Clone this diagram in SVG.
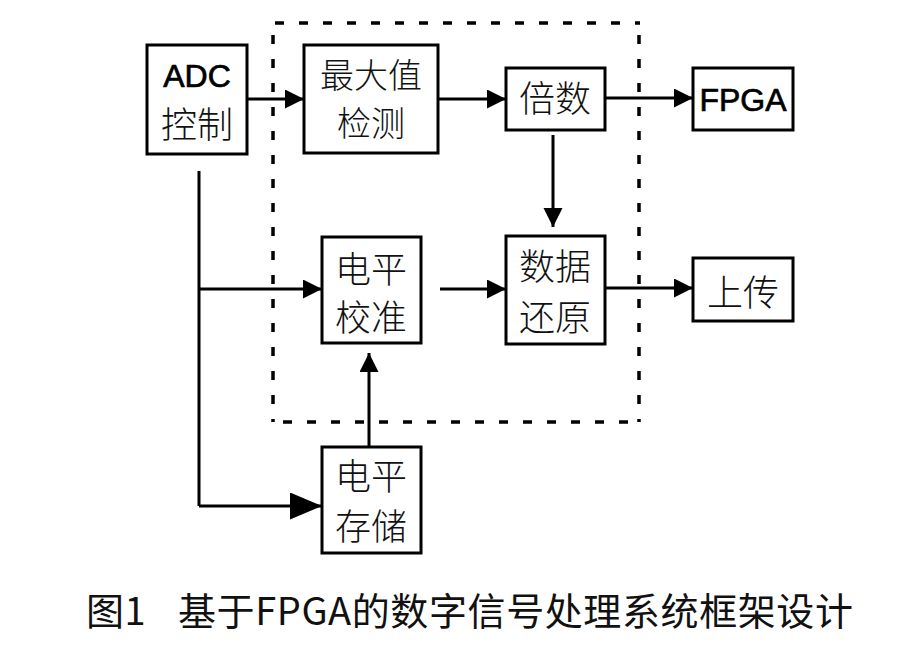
<svg xmlns="http://www.w3.org/2000/svg" width="905" height="648" viewBox="0 0 905 648">
<style>
.box{fill:#fff;stroke:#000;stroke-width:3}
.cn{font-family:"Noto Sans CJK SC","Noto Sans CJK JP",sans-serif;font-size:36px;font-weight:300;fill:#111;text-anchor:middle}
.en{font-family:"Liberation Sans",Arial,sans-serif;font-size:32px;fill:#000;text-anchor:middle;stroke:#000;stroke-width:0.7}
.ln{fill:none;stroke:#000;stroke-width:3}
.dash{fill:none;stroke:#000;stroke-width:3.5;stroke-dasharray:9 15}
.cap{font-family:"Noto Sans CJK SC","Noto Sans CJK JP",sans-serif;font-size:38px;fill:#111;letter-spacing:0.6px}
</style>
<defs>
<marker id="ah" markerUnits="userSpaceOnUse" markerWidth="20" markerHeight="20" refX="19" refY="9.5" orient="auto">
<path d="M0,0 L19,9.5 L0,19 Z" fill="#000"/>
</marker>
<marker id="ahL" markerUnits="userSpaceOnUse" markerWidth="33" markerHeight="28" refX="32" refY="13.5" orient="auto">
<path d="M0,0 L32,13.5 L0,27 Z" fill="#000"/>
</marker>
</defs>
<rect width="905" height="648" fill="#fff"/>
<g id="boundary">
<line class="dash" x1="275" y1="23" x2="640" y2="23"/>
<line class="dash" x1="273" y1="35" x2="273" y2="422"/>
<line class="dash" x1="283" y1="422" x2="640" y2="422"/>
<line class="dash" x1="639" y1="35" x2="639" y2="422"/>
</g>
<g id="connectors">
<line class="ln" x1="247" y1="99" x2="304" y2="99" marker-end="url(#ah)"/>
<line class="ln" x1="438" y1="99" x2="506" y2="99" marker-end="url(#ah)"/>
<line class="ln" x1="605" y1="98" x2="693" y2="98" marker-end="url(#ah)"/>
<line class="ln" x1="553" y1="135" x2="553" y2="227" marker-end="url(#ah)"/>
<line class="ln" x1="605" y1="288" x2="693" y2="288" marker-end="url(#ah)"/>
<line class="ln" x1="440" y1="289" x2="506" y2="289" marker-end="url(#ah)"/>
<polyline class="ln" points="199,171 199,506"/>
<line class="ln" x1="199" y1="289" x2="322" y2="289" marker-end="url(#ah)"/>
<line class="ln" x1="199" y1="506" x2="322" y2="506" marker-end="url(#ahL)"/>
<line class="ln" x1="369" y1="447" x2="369" y2="353" marker-end="url(#ah)"/>
</g>
<g id="adc">
<rect class="box" x="147" y="45" width="100" height="109"/>
<text class="en" x="197" y="87">ADC</text>
<text class="cn" x="197" y="138">控制</text>
</g>
<g id="maxdetect">
<rect class="box" x="304" y="45" width="134" height="108"/>
<text class="cn" x="371" y="88" style="font-size:34px">最大值</text>
<text class="cn" x="371" y="136" style="font-size:34px">检测</text>
</g>
<g id="multiple">
<rect class="box" x="506" y="68" width="99" height="62"/>
<text class="cn" x="555" y="112">倍数</text>
</g>
<g id="fpga">
<rect class="box" x="693" y="68" width="100" height="62"/>
<text class="en" x="743" y="111">FPGA</text>
</g>
<g id="restore">
<rect class="box" x="506" y="236" width="99" height="108"/>
<text class="cn" x="555" y="280">数据</text>
<text class="cn" x="555" y="331">还原</text>
</g>
<g id="upload">
<rect class="box" x="693" y="258" width="100" height="63"/>
<text class="cn" x="743" y="306">上传</text>
</g>
<g id="calib">
<rect class="box" x="322" y="237" width="99" height="106"/>
<text class="cn" x="371" y="283">电平</text>
<text class="cn" x="371" y="331">校准</text>
</g>
<g id="store">
<rect class="box" x="322" y="447" width="99" height="106"/>
<text class="cn" x="371" y="490">电平</text>
<text class="cn" x="371" y="540">存储</text>
</g>
<g id="caption">
<text class="cap" x="86" y="625">图1</text>
<text class="cap" x="178" y="625">基于FPGA的数字信号处理系统框架设计</text>
</g>
</svg>
